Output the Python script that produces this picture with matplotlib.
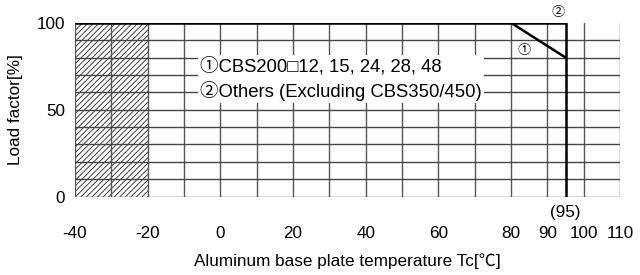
"""Derating curve: load factor vs aluminum base plate temperature."""

import matplotlib

matplotlib.use("Agg")
import matplotlib.pyplot as plt

plt.rcParams["font.family"] = ["Liberation Sans", "Noto Sans CJK JP", "DejaVu Sans"]
plt.rcParams["hatch.linewidth"] = 0.6
plt.rcParams["axes.unicode_minus"] = False

# derating curves
temps_curve1 = [-40, 80, 95]
load_curve1 = [100, 100, 80]
temps_curve2 = [-40, 95, 95]
load_curve2 = [100, 100, 0]

# hatched (not allowed) region
hatch_range = [-40, -20]

x_ticks = [-40, -20, 0, 20, 40, 60, 80, 90, 100, 110]
y_ticks = [0, 50, 100]
x_grid = list(range(-40, 111, 10))
y_grid = list(range(0, 101, 10))

legend_lines = [
    "\u2460CBS200\u25a112, 15, 24, 28, 48",
    "\u2461Others (Excluding CBS350/450)",
]

FS = 12.3

fig = plt.figure(figsize=(6.4, 2.75), dpi=100)
ax = fig.add_axes([0.117, 0.285, 0.852, 0.632])
ax.set_xlim(-40, 110)
ax.set_ylim(0, 100)

for x in x_grid:
    ax.axvline(x, color="#555555", lw=1.0, zorder=1)
for y in y_grid[:-1]:
    ax.axhline(y, color="#444444", lw=1.0, zorder=1)

ax.axvspan(*hatch_range, facecolor="none", edgecolor="#222222",
           hatch="//////", lw=0, zorder=0.5)

ax.plot(temps_curve1, load_curve1, color="black", lw=1.8, zorder=4,
        solid_capstyle="butt")
ax.plot(temps_curve2, load_curve2, color="black", lw=1.8, zorder=4,
        solid_capstyle="butt")

ax.text(-5.5, 67.7, "\n".join(legend_lines), fontsize=13.3, ha="left",
        va="center", linespacing=1.3, zorder=3,
        bbox=dict(facecolor="white", edgecolor="none", pad=1.5))

ax.text(83.5, 84, "\u2460", fontsize=9.5, ha="center", va="center", zorder=5)
ax.text(93, 105.5, "\u2461", fontsize=9.5, ha="center", va="center",
        clip_on=False)
ax.text(95, -9, "(95)", fontsize=FS, ha="center", va="center", clip_on=False)

for s in ax.spines.values():
    s.set_visible(False)
ax.set_xticks(x_ticks)
ax.set_yticks(y_ticks)
ax.tick_params(length=0, labelsize=FS)
ax.tick_params(axis="x", pad=21)
ax.tick_params(axis="y", pad=7)
ax.set_xlabel("Aluminum base plate temperature Tc[\u2103]", fontsize=FS,
              labelpad=9)
ax.set_ylabel("Load factor[%]", fontsize=FS, labelpad=10)

fig.savefig("out.png", dpi=100)
